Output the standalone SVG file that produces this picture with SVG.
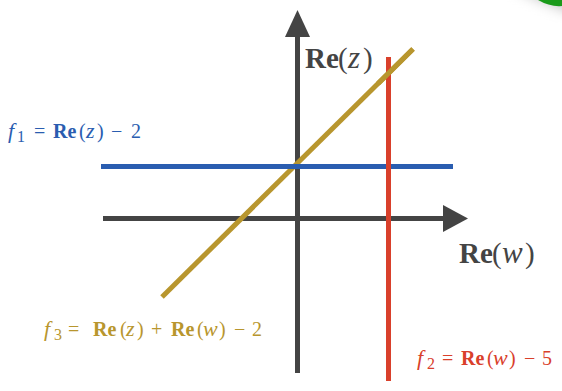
<svg xmlns="http://www.w3.org/2000/svg" width="562" height="391" viewBox="0 0 562 391">
<defs>
<style>
text{font-family:"Liberation Serif","Times New Roman",serif;}
.b{font-weight:bold;}
.i{font-style:italic;}
.axis{stroke:#444;stroke-width:5;fill:none;}
</style>
<filter id="blur" x="-50%" y="-50%" width="200%" height="200%"><feGaussianBlur stdDeviation="7"/></filter>
</defs>
<rect width="562" height="391" fill="#fff"/>
<g id="corner">
<ellipse cx="585" cy="-14" rx="110" ry="28" transform="rotate(18 585 -14)" fill="#bbb" filter="url(#blur)"/>
<path d="M538,0 Q550,7 562,6 L562,0 Z" fill="#1a9a1a"/>
</g>
<g id="axes">
<line class="axis" x1="297.5" y1="36" x2="297.5" y2="373"/>
<polygon points="285,37 297.5,10 310,37" fill="#444"/>
<line class="axis" x1="103" y1="218.5" x2="444" y2="218.5"/>
<polygon points="443,205 468,218.5 443,232" fill="#444"/>
</g>
<g id="connectors">
<line id="f3line" x1="162" y1="297" x2="413" y2="49" stroke="#b8962e" stroke-width="5"/>
<line id="f1line" x1="101" y1="166.5" x2="453" y2="166.5" stroke="#2a5db0" stroke-width="5"/>
<line id="f2line" x1="388.5" y1="57" x2="388.5" y2="381" stroke="#d9402b" stroke-width="5"/>
<line x1="378" y1="83.6" x2="413" y2="49" stroke="#b8962e" stroke-width="5"/>
</g>
<g id="label-rez">
<text font-size="29" fill="#444" y="68"><tspan class="b" x="305">Re</tspan><tspan x="338">(</tspan><tspan class="i" x="348" font-size="31">z</tspan><tspan x="363">)</tspan></text>
</g>
<g id="label-rew">
<text font-size="29" fill="#444" y="263"><tspan class="b" x="459">Re</tspan><tspan x="492">(</tspan><tspan class="i" x="502" font-size="31">w</tspan><tspan x="525">)</tspan></text>
</g>
<g id="label-f1">
<text font-size="20" fill="#2a5db0" y="138"><tspan class="i" x="8" font-size="22">f</tspan><tspan x="17" dy="4" font-size="16">1</tspan><tspan x="34" dy="-4">=</tspan><tspan class="b" x="53">Re</tspan><tspan x="79">(</tspan><tspan class="i" x="86" font-size="22">z</tspan><tspan x="97">)</tspan><tspan x="111">−</tspan><tspan x="131">2</tspan></text>
</g>
<g id="label-f3">
<text font-size="20" fill="#b8962e" y="336"><tspan class="i" x="44" font-size="22">f</tspan><tspan x="54" dy="4" font-size="16">3</tspan><tspan x="68" dy="-4">=</tspan><tspan class="b" x="93">Re</tspan><tspan x="120">(</tspan><tspan class="i" x="126" font-size="22">z</tspan><tspan x="137">)</tspan><tspan x="151">+</tspan><tspan class="b" x="171">Re</tspan><tspan x="197">(</tspan><tspan class="i" x="203" font-size="22">w</tspan><tspan x="219">)</tspan><tspan x="234">−</tspan><tspan x="252">2</tspan></text>
</g>
<g id="label-f2">
<text font-size="20" fill="#d9402b" y="365"><tspan class="i" x="417" font-size="22">f</tspan><tspan x="427" dy="4" font-size="16">2</tspan><tspan x="442" dy="-4">=</tspan><tspan class="b" x="461">Re</tspan><tspan x="487">(</tspan><tspan class="i" x="493" font-size="22">w</tspan><tspan x="509">)</tspan><tspan x="524">−</tspan><tspan x="542">5</tspan></text>
</g>
</svg>
